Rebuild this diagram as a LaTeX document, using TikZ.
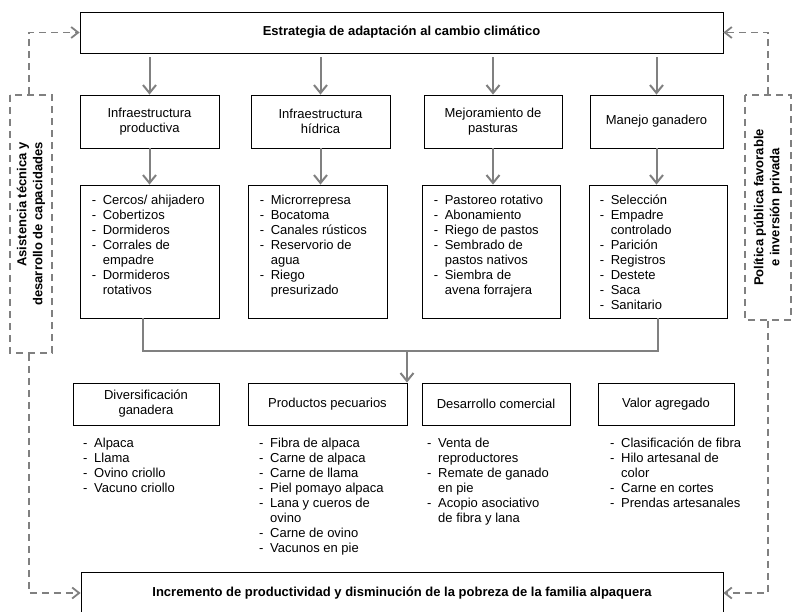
\documentclass[tikz,border=0pt]{standalone}
\usepackage{fontspec}
\setmainfont{Liberation Sans}
\usetikzlibrary{arrows.meta, positioning}
\definecolor{linegray}{RGB}{128, 128, 128}
\newcommand{\dashitem}[1]{\strut\makebox[11pt][l]{-}#1}
\newcommand{\dashcont}[1]{\strut\hspace*{11pt}#1}

\begin{document}
\begin{tikzpicture}[x=1pt, y=-1pt,
    font=\fontsize{13}{15}\selectfont,
    box/.style={draw, line width=0.8pt, inner sep=2pt, align=center},
    titlebox/.style={box, font=\fontsize{13}{15}\selectfont\bfseries},
    lst/.style={anchor=north west, align=left, inner sep=0pt},
    arr/.style={draw=linegray, line width=2pt, -{Straight Barb[length=8pt,width=13pt]}},
    conn/.style={draw=linegray, line width=2pt},
    dashline/.style={draw=linegray, line width=1.8pt, dash pattern=on 7pt off 5pt,
      -{Straight Barb[length=7pt,width=11pt]}},
    sidebox/.style={draw=linegray, line width=1.8pt, dash pattern=on 7pt off 5pt,
      rotate=90, inner sep=2pt, font=\fontsize{13}{16}\selectfont\bfseries}]
  \useasboundingbox (0,0) rectangle (792,612);

  \node[titlebox, minimum width=643pt, minimum height=41pt] (estr) at (401.5,32.5)
    {Estrategia de adaptación al cambio climático};
  \node[titlebox, minimum width=642pt, minimum height=42pt] (incr) at (402,593)
    {Incremento de productividad y disminución de la pobreza de la familia alpaquera};

  \node[sidebox, minimum width=258pt, minimum height=42pt, align=right] (asist) at (31,224)
    {Asistencia técnica y\\desarrollo de capacidades};
  \node[sidebox, minimum width=225pt, minimum height=46pt, align=center] (pol) at (768,207.5)
    {Política pública favorable\\e inversión privada};

  \node[box, minimum width=139pt, minimum height=53pt] (c1) at (149.5,121.5) {Infraestructura\\productiva};
  \node[box, minimum width=139pt, minimum height=53pt] (c2) at (320.5,121.5) {Infraestructura\\hídrica};
  \node[box, minimum width=138pt, minimum height=53pt] (c3) at (493,121.5) {Mejoramiento de\\pasturas};
  \node[box, minimum width=133pt, minimum height=53pt] (c4) at (656.5,121.5) {Manejo ganadero};

  \node[box, minimum width=139pt, minimum height=133pt] (l1) at (149.5,251.5) {};
  \node[box, minimum width=139pt, minimum height=133pt] (l2) at (317.5,251.5) {};
  \node[box, minimum width=138pt, minimum height=133pt] (l3) at (491,251.5) {};
  \node[box, minimum width=138pt, minimum height=133pt] (l4) at (658,251.5) {};

  \node[lst] (t1) at ([xshift=12pt,yshift=-9pt]l1.north west)
    {\dashitem{Cercos/ ahijadero}\\\dashitem{Cobertizos}\\\dashitem{Dormideros}\\
     \dashitem{Corrales de}\\\dashcont{empadre}\\\dashitem{Dormideros}\\\dashcont{rotativos}};
  \node[lst] (t2) at ([xshift=12pt,yshift=-9pt]l2.north west)
    {\dashitem{Microrrepresa}\\\dashitem{Bocatoma}\\\dashitem{Canales rústicos}\\
     \dashitem{Reservorio de}\\\dashcont{agua}\\\dashitem{Riego}\\\dashcont{presurizado}};
  \node[lst] (t3) at ([xshift=12pt,yshift=-9pt]l3.north west)
    {\dashitem{Pastoreo rotativo}\\\dashitem{Abonamiento}\\\dashitem{Riego de pastos}\\
     \dashitem{Sembrado de}\\\dashcont{pastos nativos}\\\dashitem{Siembra de}\\\dashcont{avena forrajera}};
  \node[lst] (t4) at ([xshift=11pt,yshift=-9pt]l4.north west)
    {\dashitem{Selección}\\\dashitem{Empadre}\\\dashcont{controlado}\\\dashitem{Parición}\\
     \dashitem{Registros}\\\dashitem{Destete}\\\dashitem{Saca}\\\dashitem{Sanitario}};

  \node[box, minimum width=146pt, minimum height=42pt] (d1) at (146,404) {Diversificación\\ganadera};
  \node[box, minimum width=159pt, minimum height=42pt] (d2) at (327.5,404) {Productos pecuarios};
  \node[box, minimum width=148pt, minimum height=42pt] (d3) at (496,404) {Desarrollo comercial};
  \node[box, minimum width=136pt, minimum height=42pt] (d4) at (666,404) {Valor agregado};

  \node[lst] (p1) at (83,436.5)
    {\dashitem{Alpaca}\\\dashitem{Llama}\\\dashitem{Ovino criollo}\\\dashitem{Vacuno criollo}};
  \node[lst] (p2) at (259,436.5)
    {\dashitem{Fibra de alpaca}\\\dashitem{Carne de alpaca}\\\dashitem{Carne de llama}\\
     \dashitem{Piel pomayo alpaca}\\\dashitem{Lana y cueros de}\\\dashcont{ovino}\\
     \dashitem{Carne de ovino}\\\dashitem{Vacunos en pie}};
  \node[lst] (p3) at (427,436.5)
    {\dashitem{Venta de}\\\dashcont{reproductores}\\\dashitem{Remate de ganado}\\\dashcont{en pie}\\
     \dashitem{Acopio asociativo}\\\dashcont{de fibra y lana}};
  \node[lst] (p4) at (610,436.5)
    {\dashitem{Clasificación de fibra}\\\dashitem{Hilo artesanal de}\\\dashcont{color}\\
     \dashitem{Carne en cortes}\\\dashitem{Prendas artesanales}};

  \foreach \n in {1,...,4} {
    \draw[arr, shorten <=4pt] (estr.south -| c\n.north) -- (c\n.north);
    \draw[arr] (c\n.south) -- (c\n.south |- l\n.north);
  }

  \coordinate (merge) at (407,351);
  \draw[conn] ([xshift=-6.5pt]l1.south) |- (merge) -| (l4.south);
  \draw[arr] (merge) -- (merge |- d2.north);

  \draw[dashline] ([xshift=-2pt]asist.east) |- (estr.west);
  \draw[dashline] ([xshift=-2pt]asist.west) |- (incr.west);
  \draw[dashline] (pol.east) |- (estr.east);
  \draw[dashline] (pol.west) |- (incr.east);
\end{tikzpicture}
\end{document}
